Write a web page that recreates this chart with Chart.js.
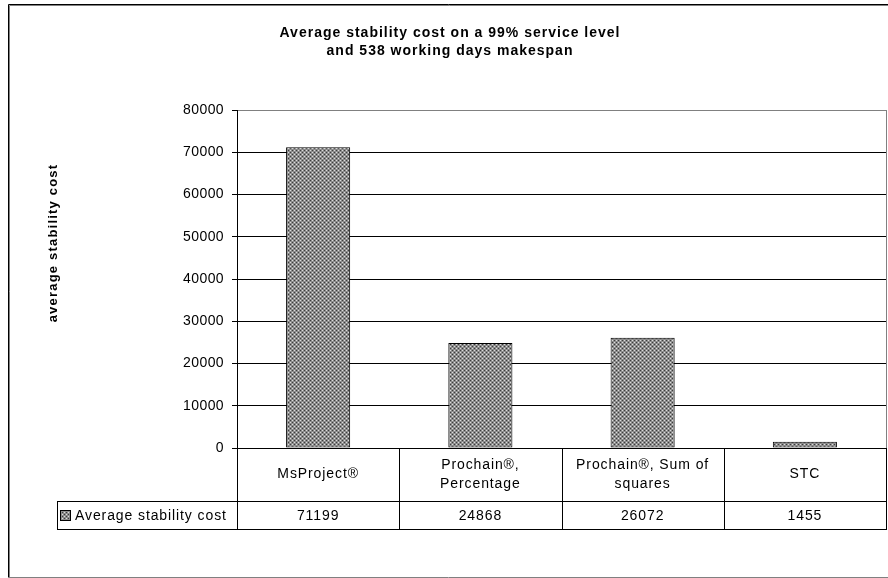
<!DOCTYPE html>
<html>
<head>
<meta charset="utf-8">
<script src="https://cdn.jsdelivr.net/npm/chart.js@4"></script>
<style>
 body { margin: 0; background: #fff; }
 #wrap { width: 888px; height: 578px; }
</style>
</head>
<body>
<div id="wrap"><canvas id="chart" width="888" height="578"></canvas></div>
<script>
var chartTitle = ["Average stability cost on a 99% service level", "and 538 working days makespan"];
var yTitle = "average stability cost";
var seriesName = "Average stability cost";
var categories = [["MsProject®"], ["Prochain®,", "Percentage"], ["Prochain®, Sum of", "squares"], ["STC"]];
var costValues = [71199, 24868, 26072, 1455];
var valueLabels = ["71199", "24868", "26072", "1455"];
var yMin = 0;
var yMax = 80000;
var yStep = 10000;

var FONT = "'Liberation Sans', Arial, sans-serif";

// excel-ish dotted grey fill
function makePattern() {
  var c = document.createElement("canvas");
  c.width = 4; c.height = 4;
  var g = c.getContext("2d");
  g.fillStyle = "#8c8c8c";
  g.fillRect(0, 0, 4, 4);
  g.fillStyle = "#dcdcdc";
  g.fillRect(0, 0, 1, 1);
  g.fillRect(2, 2, 1, 1);
  g.fillStyle = "#3c3c3c";
  g.fillRect(2, 0, 1, 1);
  g.fillRect(0, 2, 1, 1);
  return g.createPattern(c, "repeat");
}
var pattern = makePattern();

// excel text is a bit spread out
var spacingPlugin = {
  id: "spacing",
  beforeDraw: function (chart) {
    chart.ctx.letterSpacing = "0.4px";
  }
};

var tablePlugin = {
  id: "dataTable",
  afterDraw: function (chart) {
    var ctx = chart.ctx;
    var area = chart.chartArea;
    var xs = chart.scales.x;
    var n = categories.length;
    var colW = (area.right - area.left) / n;
    var row1 = area.bottom + 53;
    var row2 = row1 + 28;
    var legLeft = 57;

    ctx.save();
    // plot area right border (grey)
    ctx.strokeStyle = "#808080";
    ctx.lineWidth = 1;
    ctx.beginPath();
    ctx.moveTo(area.right + 0.5, area.top);
    ctx.lineTo(area.right + 0.5, area.bottom);
    ctx.stroke();

    // table lines
    ctx.strokeStyle = "#000";
    ctx.beginPath();
    for (var i = 0; i <= n; i++) {
      var x = Math.round(area.left + i * colW) + 0.5;
      if (i == n) x = area.right + 0.5;
      ctx.moveTo(x, area.bottom);
      ctx.lineTo(x, row2 + 0.5);
    }
    ctx.moveTo(legLeft + 0.5, row1);
    ctx.lineTo(legLeft + 0.5, row2 + 0.5);
    ctx.moveTo(legLeft, row1 + 0.5);
    ctx.lineTo(area.right + 1, row1 + 0.5);
    ctx.moveTo(legLeft, row2 + 0.5);
    ctx.lineTo(area.right + 1, row2 + 0.5);
    ctx.stroke();

    // cell text
    ctx.fillStyle = "#000";
    ctx.font = "14px " + FONT;
    ctx.letterSpacing = "0.9px";
    ctx.textAlign = "center";
    ctx.textBaseline = "middle";
    var mid1 = (area.bottom + row1) / 2;
    var mid2 = (row1 + row2) / 2;
    for (var j = 0; j < n; j++) {
      var cx = xs.getPixelForValue(j);
      var lines = categories[j];
      for (var k = 0; k < lines.length; k++) {
        ctx.fillText(lines[k], cx, mid1 + (k - (lines.length - 1) / 2) * 19);
      }
      ctx.fillText(valueLabels[j], cx, mid2 + 1);
    }

    // legend key + series name
    ctx.fillStyle = pattern;
    ctx.fillRect(61, mid2 - 4, 9, 9);
    ctx.strokeStyle = "#000";
    ctx.strokeRect(60.5, mid2 - 4.5, 10, 10);
    ctx.fillStyle = "#000";
    ctx.textAlign = "left";
    ctx.fillText(seriesName, 75, mid2 + 1);

    // chart title
    ctx.textAlign = "center";
    ctx.font = "bold 14px " + FONT;
    ctx.letterSpacing = "1px";
    ctx.fillText(chartTitle[0], 450, 33);
    ctx.fillText(chartTitle[1], 450, 51);

    // y axis title
    ctx.save();
    ctx.translate(53, 243);
    ctx.rotate(-Math.PI / 2);
    ctx.font = "bold 13px " + FONT;
    ctx.letterSpacing = "1.2px";
    ctx.fillText(yTitle, 0, 0);
    ctx.restore();

    // outer frame
    ctx.strokeStyle = "#000";
    ctx.beginPath();
    ctx.moveTo(900, 4.5);
    ctx.lineTo(8.5, 4.5);
    ctx.lineTo(8.5, 577.5);
    ctx.stroke();
    ctx.strokeStyle = "#808080";
    ctx.beginPath();
    ctx.moveTo(900, 5.5);
    ctx.lineTo(9.5, 5.5);
    ctx.lineTo(9.5, 577.5);
    ctx.moveTo(8, 577.5);
    ctx.lineTo(900, 577.5);
    ctx.stroke();
    ctx.restore();
  }
};

var chart = new Chart(document.getElementById("chart"), {
  type: "bar",
  data: {
    labels: categories,
    datasets: [{
      label: seriesName,
      data: costValues,
      backgroundColor: pattern,
      borderColor: "#000",
      borderWidth: 1,
      borderSkipped: false,
      categoryPercentage: 1,
      barPercentage: 0.395
    }]
  },
  options: {
    responsive: false,
    animation: false,
    layout: { padding: { left: 0, right: 2, top: 110, bottom: 130 } },
    plugins: {
      legend: { display: false },
      tooltip: { enabled: false },
      title: { display: false }
    },
    scales: {
      x: { display: false },
      y: {
        min: yMin,
        max: yMax,
        afterFit: function (s) { s.width = 237; },
        ticks: {
          stepSize: yStep,
          color: "#000",
          padding: 8,
          font: { family: FONT, size: 14 },
          callback: function (v) { return String(v); }
        },
        grid: {
          color: function (c) { return c.tick && c.tick.value == yMax ? "#808080" : "#000"; },
          tickLength: 5,
          tickColor: "#000"
        },
        border: { color: "#000", width: 1 }
      }
    }
  },
  plugins: [spacingPlugin, tablePlugin]
});
</script>
</body>
</html>
